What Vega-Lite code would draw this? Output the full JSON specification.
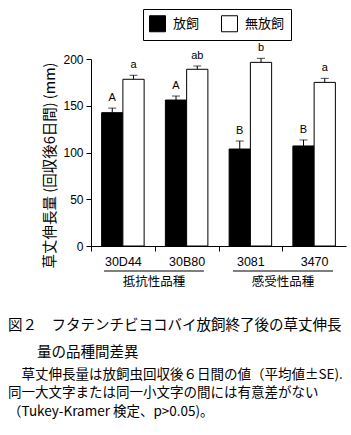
{
  "$schema": "https://vega.github.io/schema/vega-lite/v6.json",
  "width": 255,
  "height": 187,
  "autosize": {"type": "none"},
  "padding": {"left": 91, "top": 59, "right": 5, "bottom": 189},
  "title": {
    "text": ["図２　フタテンチビヨコバイ放飼終了後の草丈伸長", "\u200b　　量の品種間差異"],
    "subtitle": ["\u200b　草丈伸長量は放飼虫回収後６日間の値（平均値±SE).", "同一大文字または同一小文字の間には有意差がない", "（Tukey-Kramer 検定、p>0.05)。"],
    "orient": "bottom",
    "anchor": "start",
    "frame": "group",
    "dx": -83,
    "offset": 31,
    "font": "Noto Sans CJK JP",
    "fontSize": 14.5,
    "fontWeight": "normal",
    "lineHeight": 27,
    "color": "black",
    "subtitleFont": "Noto Sans CJK JP",
    "subtitleFontSize": 13.5,
    "subtitleLineHeight": 18.5,
    "subtitleColor": "black",
    "subtitlePadding": 7
  },
  "layer": [
    {
      "data": {
        "values": [
          {"variety": "30D44", "treatment": "放飼", "mean": 142.6, "hi": 147.5, "letter": "A"},
          {"variety": "30D44", "treatment": "無放飼", "mean": 178.3, "hi": 182.6, "letter": "a"},
          {"variety": "30B80", "treatment": "放飼", "mean": 156.1, "hi": 160.4, "letter": "A"},
          {"variety": "30B80", "treatment": "無放飼", "mean": 189.0, "hi": 192.5, "letter": "ab"},
          {"variety": "3081", "treatment": "放飼", "mean": 103.7, "hi": 112.3, "letter": "B"},
          {"variety": "3081", "treatment": "無放飼", "mean": 196.4, "hi": 200.7, "letter": "b"},
          {"variety": "3470", "treatment": "放飼", "mean": 107.0, "hi": 113.4, "letter": "B"},
          {"variety": "3470", "treatment": "無放飼", "mean": 175.0, "hi": 179.3, "letter": "a"}
        ]
      },
      "encoding": {
        "x": {
          "field": "variety",
          "type": "nominal",
          "sort": ["30D44", "30B80", "3081", "3470"],
          "scale": {"paddingInner": 0, "paddingOuter": 0},
          "axis": {
            "title": null,
            "labelAngle": 0,
            "labelFont": "Liberation Sans",
            "labelFontSize": 12.5,
            "labelColor": "black",
            "labelPadding": 4,
            "tickBand": "extent",
            "tickSize": 5,
            "tickColor": "black",
            "tickOpacity": {"condition": {"test": "datum.index >= 0.999", "value": 0}, "value": 1},
            "domainColor": "black"
          }
        },
        "xOffset": {
          "field": "treatment",
          "type": "nominal",
          "sort": ["放飼", "無放飼"],
          "scale": {"paddingInner": 0, "paddingOuter": 0.5}
        }
      },
      "layer": [
        {
          "mark": {"type": "rule", "color": "black", "strokeWidth": 1},
          "encoding": {
            "y": {"field": "mean", "type": "quantitative"},
            "y2": {"field": "hi"}
          }
        },
        {
          "mark": {"type": "tick", "color": "black", "size": 8, "thickness": 1},
          "encoding": {
            "y": {"field": "hi", "type": "quantitative"}
          }
        },
        {
          "mark": {"type": "bar", "stroke": "black", "strokeWidth": 1},
          "encoding": {
            "y": {
              "field": "mean",
              "type": "quantitative",
              "scale": {"domain": [0, 200], "nice": false, "zero": true},
              "axis": {
                "title": "草丈伸長量 (回収後6日間) (mm)",
                "titleFont": "Noto Sans CJK JP",
                "titleFontSize": 14.5,
                "titleFontWeight": "normal",
                "titleColor": "black",
                "titlePadding": 5,
                "titleY": 106,
                "values": [0, 25, 50, 75, 100, 125, 150, 175, 200],
                "labelExpr": "datum.value % 50 === 0 ? datum.label : ''",
                "labelFont": "Liberation Sans",
                "labelFontSize": 12,
                "labelColor": "black",
                "labelPadding": 3,
                "tickSize": {"condition": {"test": "datum.value % 50 === 0", "value": 5}, "value": 3},
                "tickColor": "black",
                "domainColor": "black",
                "grid": false
              }
            },
            "fill": {
              "field": "treatment",
              "type": "nominal",
              "sort": ["放飼", "無放飼"],
              "scale": {"domain": ["放飼", "無放飼"], "range": ["black", "white"]},
              "legend": {
                "title": null,
                "orient": "none",
                "legendX": 52,
                "legendY": -50,
                "direction": "horizontal",
                "strokeColor": "black",
                "padding": 6,
                "symbolType": "square",
                "symbolSize": 256,
                "symbolStrokeColor": "black",
                "symbolStrokeWidth": 1,
                "labelOffset": 7,
                "labelFont": "Noto Sans CJK JP",
                "labelFontSize": 13,
                "labelColor": "black",
                "columnPadding": 19
              }
            }
          }
        },
        {
          "mark": {"type": "text", "baseline": "bottom", "dy": -5, "font": "Liberation Sans", "fontSize": 11, "color": "black"},
          "encoding": {
            "y": {"field": "hi", "type": "quantitative"},
            "text": {"field": "letter"}
          }
        }
      ]
    },
    {
      "data": {"values": [{"group": "抵抗性品種"}, {"group": "感受性品種"}]},
      "encoding": {
        "x": {
          "field": "group",
          "type": "nominal",
          "sort": null,
          "scale": {"paddingInner": 0.2257, "paddingOuter": 0.101},
          "axis": null
        }
      },
      "layer": [
        {
          "mark": {"type": "bar", "color": "black"},
          "encoding": {
            "y": {
              "datum": -26.3,
              "type": "quantitative",
              "scale": {"domain": [0, 200], "nice": false, "zero": true},
              "axis": {
                "title": "草丈伸長量 (回収後6日間) (mm)",
                "titleFont": "Noto Sans CJK JP",
                "titleFontSize": 14.5,
                "titleFontWeight": "normal",
                "titleColor": "black",
                "titlePadding": 5,
                "titleY": 106,
                "values": [0, 25, 50, 75, 100, 125, 150, 175, 200],
                "labelExpr": "datum.value % 50 === 0 ? datum.label : ''",
                "labelFont": "Liberation Sans",
                "labelFontSize": 12,
                "labelColor": "black",
                "labelPadding": 3,
                "tickSize": {"condition": {"test": "datum.value % 50 === 0", "value": 5}, "value": 3},
                "tickColor": "black",
                "domainColor": "black",
                "grid": false
              }
            },
            "y2": {"datum": -27.4}
          }
        },
        {
          "mark": {"type": "text", "baseline": "middle", "font": "Noto Sans CJK JP", "fontSize": 12.5, "color": "black"},
          "encoding": {
            "y": {
              "datum": -38.5,
              "type": "quantitative",
              "scale": {"domain": [0, 200], "nice": false, "zero": true},
              "axis": {
                "title": "草丈伸長量 (回収後6日間) (mm)",
                "titleFont": "Noto Sans CJK JP",
                "titleFontSize": 14.5,
                "titleFontWeight": "normal",
                "titleColor": "black",
                "titlePadding": 5,
                "titleY": 106,
                "values": [0, 25, 50, 75, 100, 125, 150, 175, 200],
                "labelExpr": "datum.value % 50 === 0 ? datum.label : ''",
                "labelFont": "Liberation Sans",
                "labelFontSize": 12,
                "labelColor": "black",
                "labelPadding": 3,
                "tickSize": {"condition": {"test": "datum.value % 50 === 0", "value": 5}, "value": 3},
                "tickColor": "black",
                "domainColor": "black",
                "grid": false
              }
            },
            "text": {"field": "group"}
          }
        }
      ]
    }
  ],
  "resolve": {"scale": {"x": "independent"}},
  "config": {
    "view": {"stroke": null}
  }
}
